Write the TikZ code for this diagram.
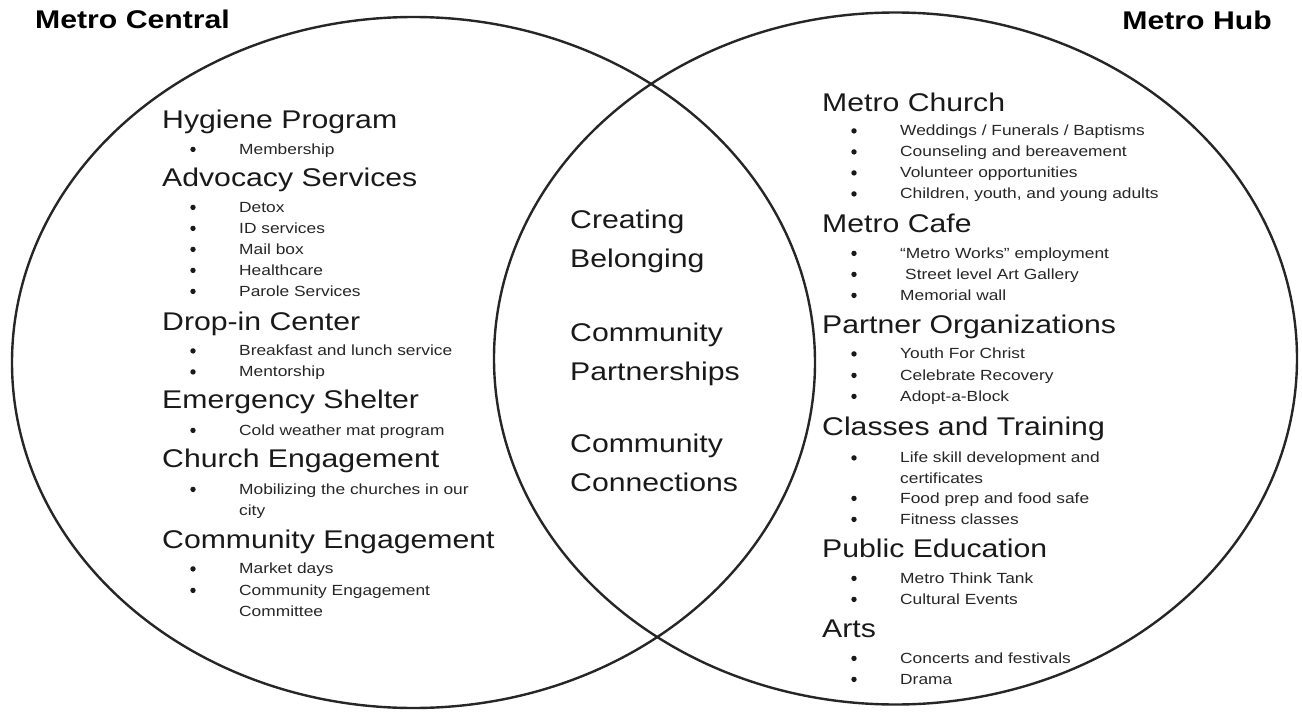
\documentclass[tikz,border=0pt]{standalone}
\usepackage{fontspec}
\usepackage{graphicx}
\setmainfont{Liberation Sans}
\newcommand\sx[1]{\scalebox{1.18}[1]{#1}}
\tikzset{
  venn/.style={draw=black!85, line width=2.4pt},
  ttl/.style={anchor=base west, inner sep=0pt, text=black, font=\fontsize{25.6}{30}\selectfont\bfseries},
  hd/.style={anchor=base west, inner sep=0pt, text=black!90, font=\fontsize{25.6}{30}\selectfont},
  itm/.style={anchor=base west, inner sep=0pt, text=black!85, font=\fontsize{14.7}{17}\selectfont},
  ctr/.style={anchor=base west, inner sep=0pt, text=black!90, font=\fontsize{25.6}{30}\selectfont},
  bulletdot/.style={fill=black!90}
}
\newcommand\bul[1]{\fill[bulletdot] ([xshift=-46pt,yshift=4.6pt]#1.base west) circle (2.7pt);}
\newcommand\bulx[1]{\fill[bulletdot] ([xshift=-51pt,yshift=4.6pt]#1.base west) circle (2.7pt);}
\begin{document}
\begin{tikzpicture}[x=1pt,y=-1pt]
\useasboundingbox (0,0) rectangle (1302,712);
% circles
\draw[venn] (413.5,362.5) ellipse [x radius=401.5pt, y radius=345.5pt];
\draw[venn] (895.5,358.5) ellipse [x radius=401.5pt, y radius=346pt];
% titles
\node[ttl] (tl) at (35,28.5) {\sx{Metro Central}};
\node[ttl, anchor=base east] (tr) at (1272,29) {\sx{Metro Hub}};
% left column
\node[hd] (lh1) at (162,128) {\sx{Hygiene Program}};
\node[itm] (li1) at (239,154) {\sx{Membership}}; \bul{li1}
\node[hd] (lh2) at (162,186.5) {\sx{Advocacy Services}};
\node[itm] (li2) at (239,212) {\sx{Detox}}; \bul{li2}
\node[itm] (li3) at (239,233) {\sx{ID services}}; \bul{li3}
\node[itm] (li4) at (239,254) {\sx{Mail box}}; \bul{li4}
\node[itm] (li5) at (239,275) {\sx{Healthcare}}; \bul{li5}
\node[itm] (li6) at (239,296) {\sx{Parole Services}}; \bul{li6}
\node[hd] (lh3) at (162,330) {\sx{Drop-in Center}};
\node[itm] (li7) at (239,355.5) {\sx{Breakfast and lunch service}}; \bul{li7}
\node[itm] (li8) at (239,376.5) {\sx{Mentorship}}; \bul{li8}
\node[hd] (lh4) at (162,408.5) {\sx{Emergency Shelter}};
\node[itm] (li9) at (239,435) {\sx{Cold weather mat program}}; \bul{li9}
\node[hd] (lh5) at (162,467.5) {\sx{Church Engagement}};
\node[itm] (li10) at (239,494) {\sx{Mobilizing the churches in our}}; \bul{li10}
\node[itm] (li10b) at (239,515) {\sx{city}};
\node[hd] (lh6) at (162,548) {\sx{Community Engagement}};
\node[itm] (li11) at (239,573.5) {\sx{Market days}}; \bul{li11}
\node[itm] (li12) at (239,595) {\sx{Community Engagement}}; \bul{li12}
\node[itm] (li12b) at (239,616) {\sx{Committee}};
% center
\node[ctr] (c1) at (570,228.5) {\sx{Creating}};
\node[ctr] (c2) at (570,267.5) {\sx{Belonging}};
\node[ctr] (c3) at (570,341.5) {\sx{Community}};
\node[ctr] (c4) at (570,380) {\sx{Partnerships}};
\node[ctr] (c5) at (570,452.5) {\sx{Community}};
\node[ctr] (c6) at (570,491) {\sx{Connections}};
% right column
\node[hd] (rh1) at (822,111) {\sx{Metro Church}};
\node[itm] (ri1) at (900,135.5) {\sx{Weddings / Funerals / Baptisms}}; \bul{ri1}
\node[itm] (ri2) at (900,156.5) {\sx{Counseling and bereavement}}; \bul{ri2}
\node[itm] (ri3) at (900,177.5) {\sx{Volunteer opportunities}}; \bul{ri3}
\node[itm] (ri4) at (900,198.5) {\sx{Children, youth, and young adults}}; \bul{ri4}
\node[hd] (rh2) at (822,232.5) {\sx{Metro Cafe}};
\node[itm] (ri5) at (900,258) {\sx{“Metro Works” employment}}; \bul{ri5}
\node[itm] (ri6) at (905,279) {\sx{Street level Art Gallery}}; \bulx{ri6}
\node[itm] (ri7) at (900,300) {\sx{Memorial wall}}; \bul{ri7}
\node[hd] (rh3) at (822,333) {\sx{Partner Organizations}};
\node[itm] (ri8) at (900,358.5) {\sx{Youth For Christ}}; \bul{ri8}
\node[itm] (ri9) at (900,380) {\sx{Celebrate Recovery}}; \bul{ri9}
\node[itm] (ri10) at (900,401) {\sx{Adopt-a-Block}}; \bul{ri10}
\node[hd] (rh4) at (822,435) {\sx{Classes and Training}};
\node[itm] (ri11) at (900,462.5) {\sx{Life skill development and}}; \bul{ri11}
\node[itm] (ri11b) at (900,483) {\sx{certificates}};
\node[itm] (ri12) at (900,503) {\sx{Food prep and food safe}}; \bul{ri12}
\node[itm] (ri13) at (900,524) {\sx{Fitness classes}}; \bul{ri13}
\node[hd] (rh5) at (822,557) {\sx{Public Education}};
\node[itm] (ri14) at (900,583) {\sx{Metro Think Tank}}; \bul{ri14}
\node[itm] (ri15) at (900,604) {\sx{Cultural Events}}; \bul{ri15}
\node[hd] (rh6) at (822,637) {\sx{Arts}};
\node[itm] (ri16) at (900,663) {\sx{Concerts and festivals}}; \bul{ri16}
\node[itm] (ri17) at (900,684) {\sx{Drama}}; \bul{ri17}
\end{tikzpicture}
\end{document}
